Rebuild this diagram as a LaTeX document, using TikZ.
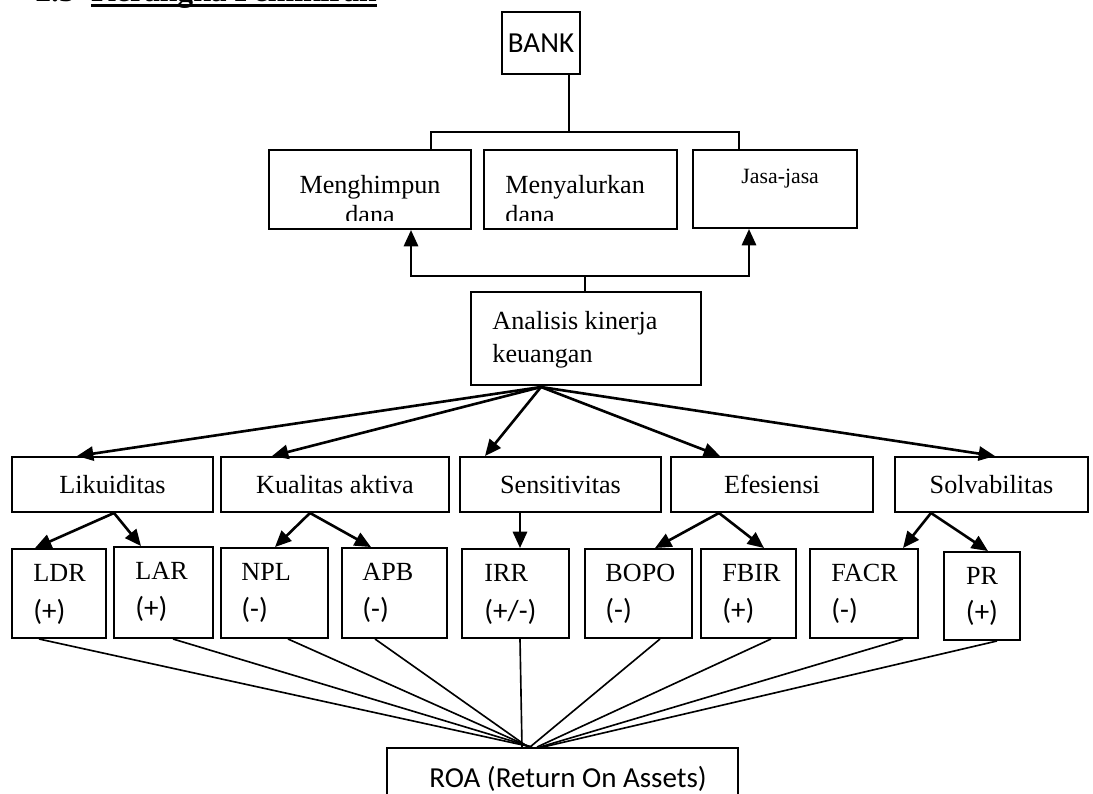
\documentclass[tikz,border=0pt]{standalone}
\usepackage{fontspec}
\setmainfont{Liberation Serif}
\newfontfamily\calib{Carlito}
\usetikzlibrary{arrows.meta,fit}
\begin{document}
\begin{tikzpicture}[x=0.4587pt,y=-0.4587pt,
  box/.style={draw, line width=0.9pt, inner sep=0pt, rectangle},
  ln/.style={line width=0.9pt},
  arr/.style={-{Triangle[length=7.5pt,width=6.5pt]}, line width=1.2pt},
  thinln/.style={line width=0.75pt},
  tm/.style={font=\fontsize{12}{14}\selectfont, inner sep=0pt},
  tms/.style={font=\fontsize{10}{12}\selectfont, inner sep=0pt},
  sf/.style={font=\calib\fontsize{13.3}{15}\selectfont, inner sep=0pt},
  ttlf/.style={font=\fontsize{14.5}{16}\selectfont\bfseries, inner sep=0pt, anchor=base west}]
\useasboundingbox (0,0) rectangle (1093,793);

% title (cut at top)
\node[ttlf] (num) at (35,1) {2.3};
\node[ttlf] (ttl) at (91,1) {Kerangka Pemikiran};
\draw[line width=1.4pt] ([yshift=-2.2pt]ttl.base west) -- ([yshift=-2.2pt]ttl.base east);

% boxes
\node[box, fit={(502,12) (580,74)}] (bank) {};
\node[box, fit={(269,150) (471,229)}] (himpun) {};
\node[box, fit={(484,150) (677,229)}] (nyalur) {};
\node[box, fit={(693,150) (857,228)}] (jasa) {};
\node[box, fit={(471,292) (701,385)}] (anal) {};
\node[box, fit={(12,457) (213,512)}] (lik) {};
\node[box, fit={(221,457) (449,512)}] (kual) {};
\node[box, fit={(460,457) (661,512)}] (sens) {};
\node[box, fit={(671,457) (873,512)}] (efes) {};
\node[box, fit={(895,457) (1088,512)}] (solv) {};
\node[box, fit={(12,549) (106,638)}] (ldr) {};
\node[box, fit={(114,547) (213,638)}] (lar) {};
\node[box, fit={(221,548) (328,638)}] (npl) {};
\node[box, fit={(342,548) (447,638)}] (apb) {};
\node[box, fit={(462,549) (569,638)}] (irr) {};
\node[box, fit={(585,549) (692,638)}] (bopo) {};
\node[box, fit={(701,549) (796,638)}] (fbir) {};
\node[box, fit={(810,549) (918,638)}] (facr) {};
\node[box, fit={(944,552) (1020,640)}] (pr) {};
\node[box, fit={(387,748) (738,810)}] (roa) {};

% texts
\node[sf] at (bank.center) {BANK};
\node[tm, anchor=base] at (370,193) {Menghimpun};
\node[tm, anchor=base west] at (505,193) {Menyalurkan};
\begin{scope}
  \clip (269,150) rectangle (677,220);
  \node[tm, anchor=base] at (370,223) {dana};
  \node[tm, anchor=base west] at (505,223) {dana};
\end{scope}
\node[tms, anchor=base west] at (741,183) {Jasa-jasa};
\node[tm, anchor=base west] at (492,329) {Analisis kinerja};
\node[tm, anchor=base west] at (492,362) {keuangan};

\node[tm, anchor=base] at (112.5,493) {Likuiditas};
\node[tm, anchor=base] at (335,493) {Kualitas aktiva};
\node[tm, anchor=base] at (560.5,493) {Sensitivitas};
\node[tm, anchor=base] at (772,493) {Efesiensi};
\node[tm, anchor=base] at (991.5,493) {Solvabilitas};

\node[tm, anchor=base west] at (33,581) {LDR};
\node[sf, anchor=base west] at (33,620) {(+)};
\node[tm, anchor=base west] at (135,579) {LAR};
\node[sf, anchor=base west] at (135,617) {(+)};
\node[tm, anchor=base west] at (241,580) {NPL};
\node[sf, anchor=base west] at (241,618) {(-)};
\node[tm, anchor=base west] at (362,580) {APB};
\node[sf, anchor=base west] at (362,618) {(-)};
\node[tm, anchor=base west] at (484,581) {IRR};
\node[sf, anchor=base west] at (484,620) {(+/-)};
\node[tm, anchor=base west] at (605,581) {BOPO};
\node[sf, anchor=base west] at (605,619) {(-)};
\node[tm, anchor=base west] at (722,581) {FBIR};
\node[sf, anchor=base west] at (722,619) {(+)};
\node[tm, anchor=base west] at (831,581) {FACR};
\node[sf, anchor=base west] at (831,619) {(-)};
\node[tm, anchor=base] at (982,584) {PR};
\node[sf, anchor=base] at (982,621) {(+)};
\node[sf, anchor=base] at (568,787) {ROA (Return On Assets)};

% BANK connectors
\coordinate (jb) at (569,132);
\draw[ln] (bank.south -| jb) -- (jb);
\draw[ln] (himpun.north -| 431,0) |- (jb) -| (jasa.north -| 739,0);

% Analisis to top boxes
\coordinate (ja) at (585,276);
\draw[thinln] (anal.north -| ja) -- (ja);
\draw[arr] (ja) -| (himpun.south -| 411,0);
\draw[arr] (ja) -| (jasa.south -| 749,0);

% fan from Analisis
\coordinate (ak) at (541,387);
\draw[arr] (ak) -- (lik.north -| 77,0);
\draw[arr] (ak) -- (kual.north -| 272,0);
\draw[arr] (ak) -- (sens.north -| 485,0);
\draw[arr] (ak) -- (efes.north -| 720,0);
\draw[arr] (ak) -- (solv.north -| 995,0);

% second row to third row
\draw[arr] (lik.south -| 114,0) -- (ldr.north -| 35,0);
\draw[arr] (lik.south -| 114,0) -- (lar.north -| 141,0);
\draw[arr] (kual.south -| 310,0) -- (npl.north -| 275,0);
\draw[arr] (kual.south -| 310,0) -- (apb.north -| 371,0);
\draw[arr] (sens.south -| 520,0) -- (irr.north -| 520,0);
\draw[arr] (efes.south -| 719,0) -- (bopo.north -| 655,0);
\draw[arr] (efes.south -| 719,0) -- (fbir.north -| 764,0);
\draw[arr] (solv.south -| 931,0) -- (facr.north -| 903,0);
\draw[arr] (solv.south -| 931,0) -- (pr.north -| 988,0);

% third row to ROA
\draw[thinln] (ldr.south -| 39,0) -- (roa.north -| 532,0);
\draw[thinln] (lar.south -| 173,0) -- (roa.north -| 532,0);
\draw[thinln] (npl.south -| 288,0) -- (roa.north -| 530,0);
\draw[thinln] (apb.south -| 375,0) -- (roa.north -| 528,0);
\draw[thinln] (irr.south -| 520,0) -- (roa.north -| 522,0);
\draw[thinln] (bopo.south -| 660,0) -- (roa.north -| 530,0);
\draw[thinln] (fbir.south -| 771,0) -- (roa.north -| 537,0);
\draw[thinln] (facr.south -| 903,0) -- (roa.north -| 540,0);
\draw[thinln] (pr.south -| 997,0) -- (roa.north -| 543,0);
\end{tikzpicture}
\end{document}
